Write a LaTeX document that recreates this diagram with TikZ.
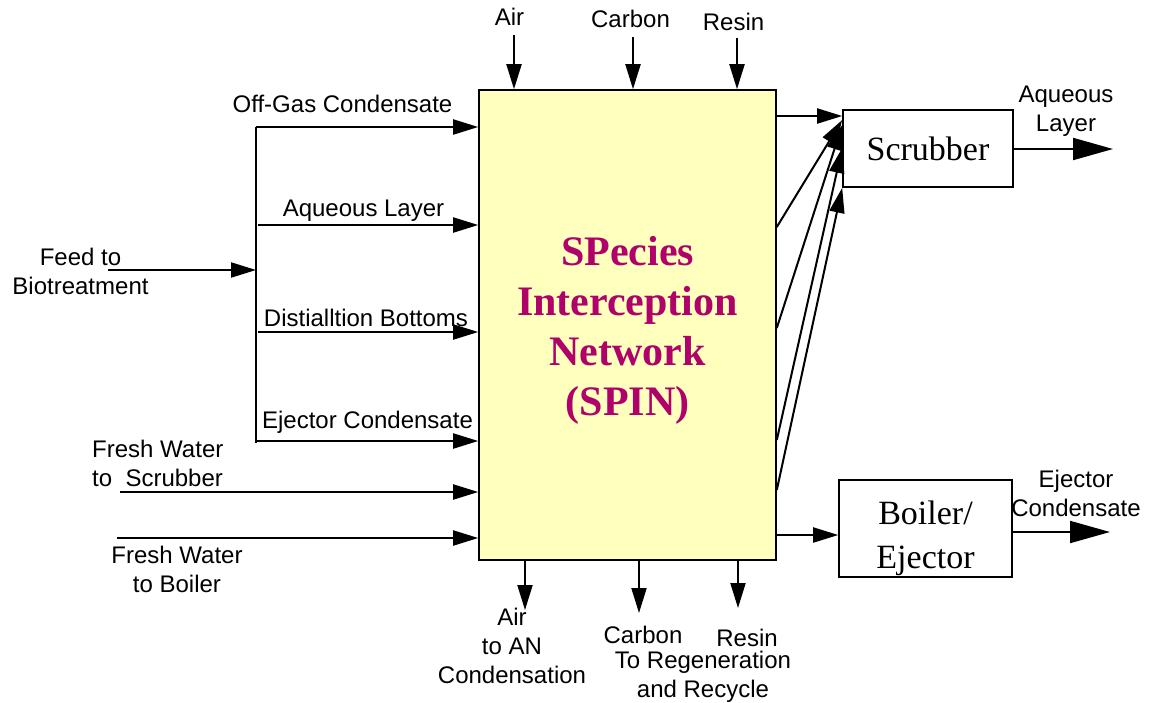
\documentclass[tikz,border=0pt]{standalone}
\usepackage{fontspec}
\setmainfont{Liberation Serif}
\setsansfont{Liberation Sans}
\usetikzlibrary{arrows.meta}
\definecolor{spinfill}{RGB}{255,255,190}
\definecolor{spintext}{RGB}{176,0,106}
\begin{document}
\begin{tikzpicture}[x=1pt,y=-1pt,
  lbl/.style={font=\sffamily\fontsize{24}{29}\selectfont, inner sep=0pt, align=center},
  lblb/.style={lbl, anchor=base},
  lbln/.style={lbl, anchor=north},
  flow/.style={line width=2pt, -{Triangle[length=25pt,width=15pt]}},
  bigflow/.style={line width=2pt, -{Triangle[length=40pt,width=22pt]}},
  unitbox/.style={draw, line width=1.6pt, fill=white, inner sep=0pt, font=\rmfamily\fontsize{34}{44}\selectfont, align=center},
  spinbox/.style={draw, line width=1.6pt, fill=spinfill, inner sep=0pt, text=spintext, font=\rmfamily\bfseries\fontsize{42}{50}\selectfont, align=center},
]
\useasboundingbox (0,0) rectangle (1151,702);

% main blocks
\node[spinbox, minimum width=297, minimum height=470] (spin) at (627.5,325)
  {\rule{0pt}{39pt}SPecies\\Interception\\Network\\(SPIN)};
\node[unitbox, minimum width=170, minimum height=77] (scrubber) at (928,148.5) {Scrubber};
\node[unitbox, minimum width=173, minimum height=97] (boiler) at (925.5,528.5) {};
\node[unitbox, draw=none, fill=none, anchor=north] (boilertext) at (925.5,500) {Boiler/\\Ejector};

% left side coordinates
\coordinate (b1) at (256,127);
\coordinate (b2) at (258,225);
\coordinate (b3) at (258,332);
\coordinate (b4) at (256,441);
\coordinate (bbot) at (256,443);
\coordinate (feedin) at (108,270);
\coordinate (fwsin) at (120,492);
\coordinate (fwbin) at (117,538);

\draw[line width=2pt] (b1) -- (bbot);
\draw[flow] (b1) -- (b1 -| spin.west);
\draw[flow] (b2) -- (b2 -| spin.west);
\draw[flow] (b3) -- (b3 -| spin.west);
\draw[flow] (b4) -- (b4 -| spin.west);
\draw[flow] (feedin) -- (feedin -| b1);
\draw[flow] (fwsin) -- (fwsin -| spin.west);
\draw[flow] (fwbin) -- (fwbin -| spin.west);

% left labels
\node[lblb] (loffgas) at (342.5,112) {Off-Gas Condensate};
\node[lblb] (laq) at (363.5,216) {Aqueous Layer};
\node[lbln] (lfeed) at (80.5,247.8) {Feed to\\Biotreatment};
\node[lblb] (ldist) at (366,326) {Distialltion Bottoms};
\node[lblb] (lejc) at (367.5,428) {Ejector Condensate};
\node[lbl, align=left, anchor=north west] (lfws) at (92,439.8) {Fresh Water\\to\ \ Scrubber};
\node[lbln] (lfwb) at (177,545.8) {Fresh Water\\to Boiler};

% top inputs
\coordinate (airin) at (514,35);
\coordinate (carbonin) at (633,37);
\coordinate (resinin) at (737,38);
\draw[flow] (airin) -- (airin |- spin.north);
\draw[flow] (carbonin) -- (carbonin |- spin.north);
\draw[flow] (resinin) -- (resinin |- spin.north);
\node[lblb] (lairin) at (509.5,25) {Air};
\node[lblb] (lcarbonin) at (630.5,27) {Carbon};
\node[lblb] (lresinin) at (733.5,30) {Resin};

% bottom outputs
\coordinate (airout) at (525,610);
\coordinate (carbonout) at (639,613);
\coordinate (resinout) at (738,608);
\draw[flow] (airout |- spin.south) -- (airout);
\draw[flow] (carbonout |- spin.south) -- (carbonout);
\draw[flow] (resinout |- spin.south) -- (resinout);
\node[lbln] (lairout) at (512,607.8) {Air\\to AN\\Condensation};
\node[lblb] (lcarbonout) at (643,643) {Carbon};
\node[lblb] (lresinout) at (747,646) {Resin};
\node[lbln] (lregen) at (703,650.8) {To Regeneration\\and Recycle};

% to scrubber
\draw[flow] (spin.east |- 0,116) -- (scrubber.west |- 0,116);
\draw[flow] (spin.east |- 0,227) -- (scrubber.west |- 0,120);
\draw[flow] (spin.east |- 0,328) -- (scrubber.west |- 0,125);
\draw[flow] (spin.east |- 0,440) -- (scrubber.west |- 0,148);
\draw[flow] (spin.east |- 0,490) -- (scrubber.south west);
% to boiler
\draw[flow] (spin.east |- 0,535) -- (boiler.west |- 0,535);

% outputs right
\coordinate (aqout) at (1113,149);
\coordinate (ejout) at (1110,532);
\draw[bigflow] (scrubber.east |- aqout) -- (aqout);
\draw[bigflow] (boiler.east |- ejout) -- (ejout);
\node[lbln] (laqout) at (1066,85.8) {Aqueous\\Layer};
\node[lbln] (lejout) at (1076,469.8) {Ejector\\Condensate};
\end{tikzpicture}
\end{document}
